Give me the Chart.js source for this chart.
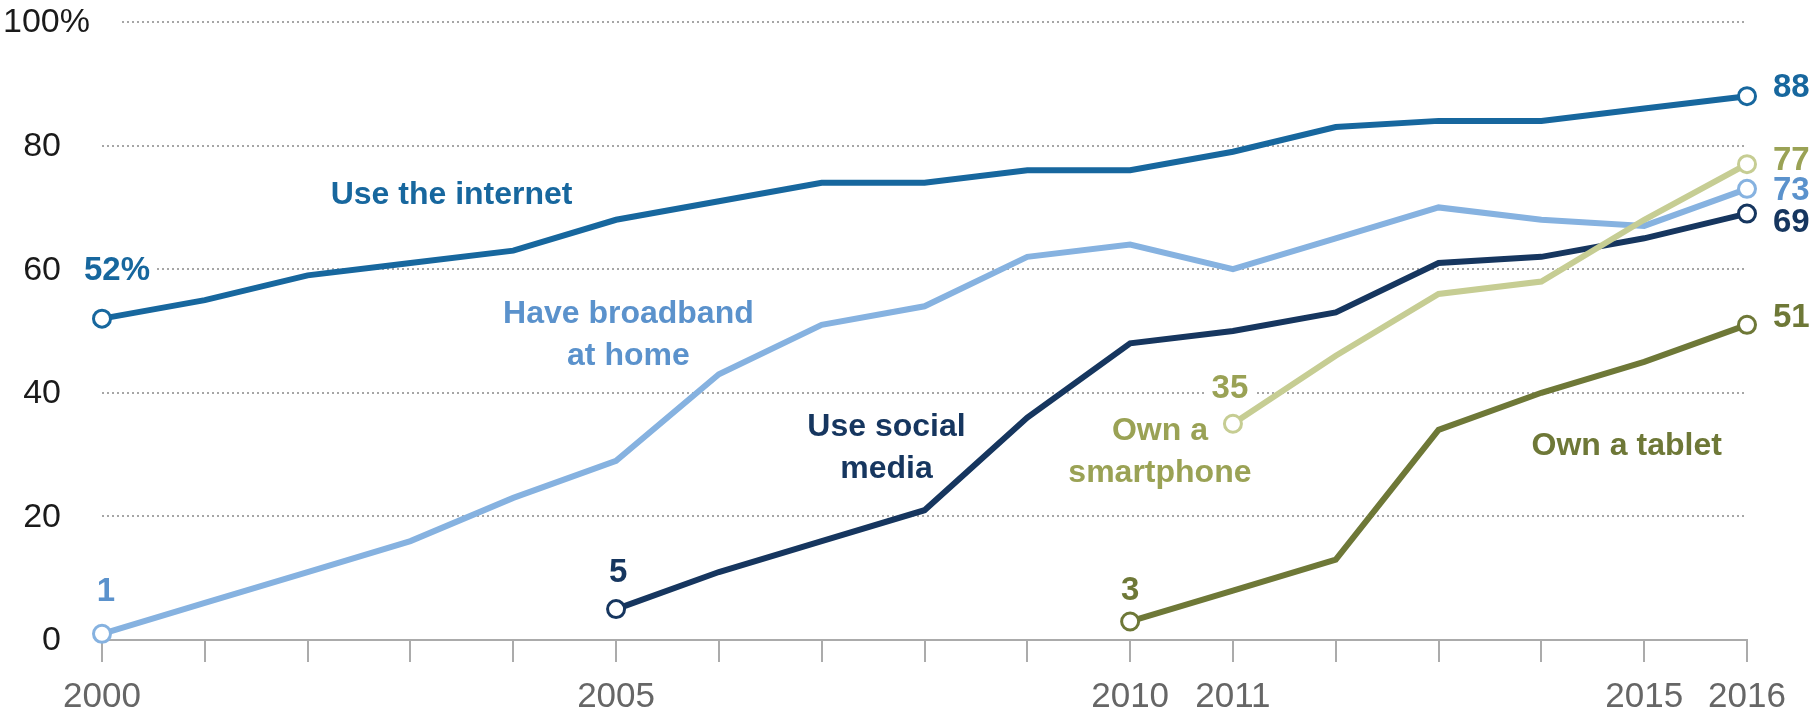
<!DOCTYPE html>
<html>
<head>
<meta charset="utf-8">
<script src="https://cdn.jsdelivr.net/npm/chart.js@4.4.1/dist/chart.umd.min.js"></script>
<style>
  html, body { margin: 0; padding: 0; background: #fff; }
  #wrap { width: 1814px; height: 709px; }
</style>
</head>
<body>
<div id="wrap"><canvas id="chart" width="1814" height="709"></canvas></div>
<script>
// data
const years = ['2000','2001','2002','2003','2004','2005','2006','2007','2008','2009','2010','2011','2012','2013','2014','2015','2016'];
const shownYears = ['2000','2005','2010','2011','2015','2016'];
const yTicks = [0, 20, 40, 60, 80, 100];

const internet   = [52, 55, 59, 61, 63, 68, 71, 74, 74, 76, 76, 79, 83, 84, 84, 86, 88];
const broadband  = [1, 6, 11, 16, 23, 29, 43, 51, 54, 62, 64, 60, 65, 70, 68, 67, 73];
const social     = [null, null, null, null, null, 5, 11, 16, 21, 36, 48, 50, 53, 61, 62, 65, 69];
const smartphone = [null, null, null, null, null, null, null, null, null, null, null, 35, 46, 56, 58, 68, 77];
const tablet     = [null, null, null, null, null, null, null, null, null, null, 3, 8, 13, 34, 40, 45, 51];

const seriesNames  = ['Use the internet', 'Have broadband at home', 'Use social media', 'Own a smartphone', 'Own a tablet'];
const seriesValues = [internet, broadband, social, smartphone, tablet];

// look
const lineColors = ['#17679e', '#86b2e0', '#16365f', '#c6cd93', '#6e7837'];
const textColors = ['#17679e', '#5b92cc', '#16365f', '#9aa255', '#6e7837'];
const FONT = '"Liberation Sans", Arial, sans-serif';

// series name labels: lines, centre in (year index, value) units
const nameLines = [['Use the internet'], ['Have broadband', 'at home'], ['Use social', 'media'], ['Own a', 'smartphone'], ['Own a tablet']];
const namePos   = [[3.40, 71.9], [5.12, 49.3], [7.63, 31.0], [10.29, 30.4], [14.83, 31.3]];
// pixel nudges for first / last value labels
const startOffset = [[15, -48], [4, -42], [2, -36], [-3, -35], [0, -31]];
const endOffset   = [-8, 2, 9, -3, -7];

function firstIdx(arr) { return arr.findIndex(v => v !== null); }

// texte: tick labels of y, names, first and last values
const annotate = {
  id: 'annotate',
  beforeDatasetsDraw(chart) {
    const { ctx, scales: { x, y } } = chart;
    ctx.save();

    // y tick labels
    ctx.font = '34px ' + FONT;
    ctx.fillStyle = '#1a1a1a';
    ctx.textBaseline = 'middle';
    yTicks.forEach(v => {
      const py = y.getPixelForValue(v);
      if (v === 100) {
        ctx.fillStyle = '#fff';
        ctx.fillRect(86, py - 4, 36, 8);
        ctx.fillStyle = '#1a1a1a';
        ctx.textAlign = 'left';
        ctx.fillText('100%', 3, py + 1);
      } else {
        ctx.textAlign = 'right';
        ctx.fillText(String(v), 61, py + 1);
      }
    });

    ctx.textAlign = 'center';
    seriesValues.forEach((vals, i) => {
      // name
      ctx.font = 'bold 32px ' + FONT;
      ctx.fillStyle = textColors[i];
      const lines = nameLines[i];
      const cx = x.getPixelForValue(namePos[i][0]);
      const cy = y.getPixelForValue(namePos[i][1]);
      lines.forEach((t, k) => {
        ctx.fillText(t, cx, cy + (k - (lines.length - 1) / 2) * 42);
      });

      // first value
      ctx.font = 'bold 33px ' + FONT;
      const f = firstIdx(vals);
      const txt = vals[f] + (i === 0 ? '%' : '');
      const sx = x.getPixelForValue(f) + startOffset[i][0];
      const sy = y.getPixelForValue(vals[f]) + startOffset[i][1];
      const w = ctx.measureText(txt).width;
      ctx.fillStyle = '#fff';
      ctx.fillRect(sx - w / 2 - 6, sy - 6, w + 12, 12);
      ctx.fillStyle = textColors[i];
      ctx.fillText(txt, sx, sy);

      // last value
      const l = vals.length - 1;
      ctx.textAlign = 'left';
      ctx.fillText(String(vals[l]), x.getPixelForValue(l) + 26, y.getPixelForValue(vals[l]) + endOffset[i]);
      ctx.textAlign = 'center';
    });
    ctx.restore();
  }
};

new Chart(document.getElementById('chart'), {
  type: 'line',
  data: {
    labels: years,
    datasets: seriesValues.map((vals, i) => {
      const f = firstIdx(vals);
      return {
        label: seriesNames[i],
        data: vals,
        borderColor: lineColors[i],
        borderWidth: 6,
        tension: 0,
        pointRadius: vals.map((v, j) => (j === f || j === vals.length - 1) ? 8.5 : 0),
        pointBackgroundColor: '#fff',
        pointBorderColor: lineColors[i],
        pointBorderWidth: 3,
        clip: false
      };
    }).reverse()
  },
  options: {
    responsive: false,
    animation: false,
    devicePixelRatio: 1,
    layout: { padding: { top: 22, right: 67, left: 0, bottom: 0 } },
    plugins: { legend: { display: false }, tooltip: { enabled: false } },
    scales: {
      x: {
        grid: { drawOnChartArea: false, drawTicks: true, tickLength: 22, color: '#ababab', lineWidth: 2 },
        border: { color: '#ababab', width: 2 },
        ticks: {
          autoSkip: false, maxRotation: 0, padding: 14, color: '#666666',
          font: { size: 35, family: FONT },
          callback: (v, i) => shownYears.includes(years[i]) ? years[i] : ''
        },
        afterFit(s) { s.height = 69; }
      },
      y: {
        min: 0, max: 100,
        ticks: { display: false, stepSize: 20 },
        grid: { color: c => c.tick && c.tick.value === 0 ? 'rgba(0,0,0,0)' : '#a6a6a6', lineWidth: 2, drawTicks: false },
        border: { display: false, dash: [2, 3] },
        afterFit(s) { s.width = 102; }
      }
    }
  },
  plugins: [annotate]
});
</script>
</body>
</html>
